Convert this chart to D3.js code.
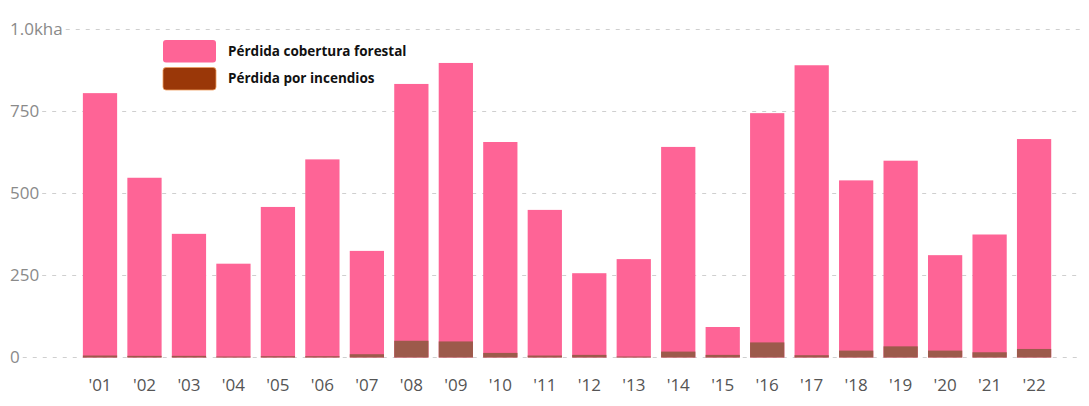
<!DOCTYPE html>
<html>
<head>
<meta charset="utf-8">
<script src="https://cdn.jsdelivr.net/npm/d3@7"></script>
<style>
  body { margin: 0; background: #fff; }
  svg { display: block; }
</style>
</head>
<body>
<svg id="chart" width="1089" height="406"></svg>
<script>
// datos (kha)
const years = ["'01","'02","'03","'04","'05","'06","'07","'08","'09","'10","'11",
               "'12","'13","'14","'15","'16","'17","'18","'19","'20","'21","'22"];
const forestLoss = [806, 548, 377, 286, 459, 604, 325, 834, 898, 657, 450,
                    257, 300, 642, 93, 745, 891, 540, 600, 312, 375, 666];
const fireLoss = [6, 5, 5, 3, 4, 4, 10, 51, 49, 14, 6,
                  8, 3, 18, 8, 46, 7, 21, 34, 21, 16, 26];
const yTicks = [0, 250, 500, 750, 1000];
const yTickLabels = ["0", "250", "500", "750", "1.0kha"];
const legendLabels = ["Pérdida cobertura forestal", "Pérdida por incendios"];

const pink = "#fe6496";
const brown = "#9c5a4b";
const legendBrown = "#9a3708";

const svg = d3.select("#chart");

const step = 44.48;
const x = d3.scaleBand()
    .domain(years)
    .range([100 - step / 2, 100 - step / 2 + step * years.length])
    .paddingInner(0.23)
    .paddingOuter(0.115);

const y = d3.scaleLinear()
    .domain([0, 1000])
    .range([357.5, 29.5]);

// lineas de cuadricula + etiquetas del eje y
const grid = svg.append("g");
yTicks.forEach((t, i) => {
    const label = grid.append("text")
        .attr("x", 10)
        .attr("y", y(t))
        .attr("dy", "0.35em")
        .style("font-family", "'Open Sans', sans-serif")
        .style("font-size", "17px")
        .style("fill", "#8a8a8a")
        .text(yTickLabels[i]);
    const w = label.node().getComputedTextLength();
    grid.append("line")
        .attr("x1", 10 + w + 3)
        .attr("x2", 1080)
        .attr("y1", y(t))
        .attr("y2", y(t))
        .style("stroke", "#cfcfcf")
        .style("stroke-width", 1.2)
        .style("stroke-dasharray", "4,6");
});

// barras de pérdida total
svg.selectAll(".bar")
    .data(years)
    .enter().append("rect")
    .attr("class", "bar")
    .attr("x", d => x(d))
    .attr("width", x.bandwidth())
    .attr("y", (d, i) => y(forestLoss[i]))
    .attr("height", (d, i) => y(0) - y(forestLoss[i]))
    .style("fill", pink);

// incendios
svg.selectAll(".fire")
    .data(years)
    .enter().append("rect")
    .attr("class", "fire")
    .attr("x", d => x(d))
    .attr("width", x.bandwidth())
    .attr("y", (d, i) => y(fireLoss[i]))
    .attr("height", (d, i) => y(0) - y(fireLoss[i]))
    .style("fill", brown);

// eje x
const xAxis = svg.append("g")
    .attr("transform", `translate(0,${y(0)})`)
    .call(d3.axisBottom(x).tickSize(0).tickPadding(21));
xAxis.select(".domain").remove();
xAxis.selectAll("text")
    .style("font-family", "'Open Sans', sans-serif")
    .style("font-size", "17px")
    .style("fill", "#555");

// leyenda
const legend = svg.append("g");
[pink, legendBrown].forEach((c, i) => {
    legend.append("rect")
        .attr("x", 163)
        .attr("y", 40 + i * 27.5)
        .attr("width", 53)
        .attr("height", 22.5)
        .attr("rx", 3)
        .style("fill", c)
        .style("stroke", i === 1 ? "#f0a060" : "none")
        .style("stroke-width", 0.8);
    legend.append("text")
        .attr("x", 228)
        .attr("y", 51 + i * 27.5)
        .attr("dy", "0.35em")
        .style("font-family", "'Open Sans', sans-serif")
        .style("font-weight", 700)
        .style("font-size", "13.5px")
        .style("fill", "#111")
        .text(legendLabels[i]);
});
</script>
</body>
</html>
